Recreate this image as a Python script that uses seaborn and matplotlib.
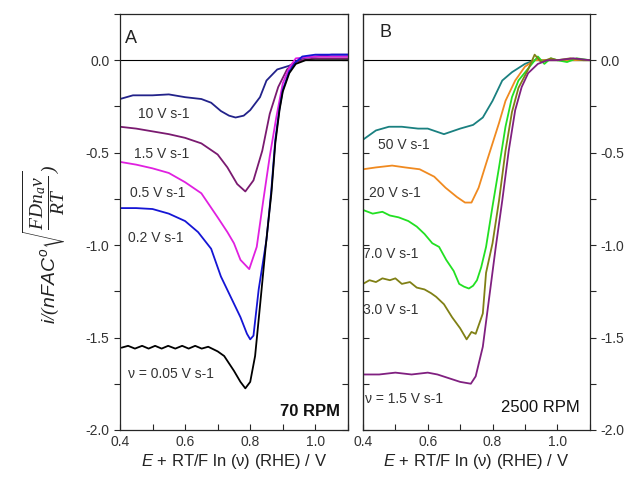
import numpy as np
import pandas as pd
import matplotlib
matplotlib.use('Agg')
import matplotlib.pyplot as plt
from matplotlib.ticker import MultipleLocator
import seaborn as sns

# panel A (70 RPM)
a_labels = ['10 V s-1', '1.5 V s-1', '0.5 V s-1', '0.2 V s-1', 'ν = 0.05 V s-1']
a_colors = ['#22228a', '#7a1a70', '#e020e0', '#1515d5', '#000000']
a_x = [
    [0.40, 0.44, 0.50, 0.55, 0.60, 0.65, 0.68, 0.71, 0.735, 0.755, 0.78, 0.80, 0.83, 0.85, 0.883, 0.92, 0.94, 0.96, 1.00, 1.05, 1.10],
    [0.40, 0.45, 0.50, 0.55, 0.60, 0.65, 0.70, 0.73, 0.76, 0.785, 0.81, 0.837, 0.86, 0.886, 0.913, 0.94, 0.96, 1.00, 1.05, 1.10],
    [0.40, 0.45, 0.50, 0.55, 0.60, 0.65, 0.70, 0.73, 0.75, 0.77, 0.797, 0.82, 0.84, 0.86, 0.88, 0.90, 0.92, 0.94, 0.97, 1.00, 1.05, 1.10],
    [0.40, 0.45, 0.50, 0.55, 0.60, 0.64, 0.68, 0.71, 0.74, 0.77, 0.79, 0.80, 0.81, 0.826, 0.85, 0.865, 0.877, 0.89, 0.90, 0.92, 0.94, 0.96, 1.00, 1.05, 1.10],
    [0.405, 0.425, 0.446, 0.468, 0.488, 0.508, 0.528, 0.548, 0.570, 0.591, 0.611, 0.631, 0.651, 0.671, 0.70, 0.72, 0.75, 0.77, 0.785, 0.80, 0.815, 0.83, 0.848, 0.865, 0.877, 0.89, 0.90, 0.92, 0.94, 0.97, 1.05, 1.10],
]
a_y = [
    [-0.21, -0.19, -0.19, -0.185, -0.20, -0.21, -0.23, -0.275, -0.30, -0.31, -0.30, -0.27, -0.20, -0.11, -0.05, -0.03, -0.01, 0.01, 0.02, 0.03, 0.03],
    [-0.36, -0.37, -0.385, -0.40, -0.42, -0.45, -0.51, -0.58, -0.67, -0.71, -0.65, -0.49, -0.29, -0.145, -0.05, -0.01, 0.0, 0.01, 0.01, 0.01],
    [-0.55, -0.565, -0.585, -0.61, -0.66, -0.72, -0.85, -0.93, -0.99, -1.08, -1.13, -1.01, -0.76, -0.52, -0.31, -0.125, -0.04, 0.01, 0.015, 0.02, 0.02, 0.02],
    [-0.80, -0.80, -0.805, -0.83, -0.87, -0.93, -1.02, -1.17, -1.28, -1.39, -1.48, -1.51, -1.49, -1.24, -0.97, -0.70, -0.43, -0.26, -0.16, -0.06, -0.01, 0.02, 0.03, 0.03, 0.03],
    [-1.555, -1.545, -1.56, -1.545, -1.56, -1.545, -1.56, -1.545, -1.56, -1.545, -1.56, -1.545, -1.56, -1.55, -1.575, -1.60, -1.68, -1.74, -1.775, -1.74, -1.60, -1.33, -1.00, -0.72, -0.45, -0.27, -0.17, -0.07, -0.02, 0.0, 0.0, 0.0],
]
a_text_y = [-0.29, -0.51, -0.72, -0.96, -1.70]
a_text_x = [0.455, 0.443, 0.43, 0.425, 0.425]

# panel B (2500 RPM)
b_labels = ['50 V s-1', '20 V s-1', '7.0 V s-1', '3.0 V s-1', 'ν = 1.5 V s-1']
b_colors = ['#1a8080', '#f08a20', '#22e022', '#808015', '#802080']
b_x = [
    [0.40, 0.44, 0.48, 0.52, 0.57, 0.60, 0.65, 0.70, 0.74, 0.77, 0.80, 0.83, 0.86, 0.90, 0.93, 0.96, 1.00, 1.05, 1.10],
    [0.40, 0.44, 0.49, 0.53, 0.575, 0.62, 0.655, 0.69, 0.715, 0.735, 0.757, 0.78, 0.80, 0.82, 0.84, 0.87, 0.90, 0.93, 0.96, 1.00, 1.05, 1.10],
    [0.40, 0.43, 0.46, 0.483, 0.51, 0.54, 0.566, 0.59, 0.614, 0.635, 0.657, 0.68, 0.697, 0.712, 0.727, 0.74, 0.752, 0.765, 0.78, 0.80, 0.82, 0.84, 0.86, 0.88, 0.91, 0.94, 0.96, 0.98, 1.00, 1.03, 1.06, 1.10],
    [0.40, 0.42, 0.44, 0.46, 0.483, 0.50, 0.52, 0.545, 0.566, 0.59, 0.61, 0.626, 0.65, 0.675, 0.70, 0.72, 0.735, 0.748, 0.77, 0.78, 0.80, 0.82, 0.84, 0.86, 0.88, 0.91, 0.93, 0.95, 0.98, 1.00, 1.04, 1.08, 1.10],
    [0.40, 0.45, 0.50, 0.55, 0.60, 0.63, 0.665, 0.70, 0.733, 0.748, 0.77, 0.79, 0.81, 0.83, 0.85, 0.87, 0.89, 0.91, 0.94, 0.97, 1.00, 1.05, 1.10],
]
b_y = [
    [-0.43, -0.38, -0.36, -0.36, -0.37, -0.37, -0.40, -0.37, -0.35, -0.31, -0.22, -0.11, -0.065, -0.02, 0.0, 0.0, 0.0, 0.0, 0.0],
    [-0.59, -0.58, -0.57, -0.58, -0.59, -0.63, -0.69, -0.74, -0.77, -0.77, -0.69, -0.56, -0.45, -0.34, -0.22, -0.11, -0.035, 0.0, 0.0, 0.0, 0.0, 0.0],
    [-0.81, -0.83, -0.82, -0.84, -0.85, -0.87, -0.90, -0.94, -0.99, -1.01, -1.08, -1.14, -1.21, -1.225, -1.235, -1.22, -1.19, -1.12, -1.01, -0.79, -0.58, -0.36, -0.20, -0.11, -0.045, 0.02, -0.02, 0.01, 0.0, -0.01, 0.01, 0.0],
    [-1.21, -1.19, -1.20, -1.18, -1.19, -1.18, -1.21, -1.20, -1.23, -1.24, -1.26, -1.28, -1.32, -1.39, -1.45, -1.51, -1.47, -1.48, -1.37, -1.15, -0.99, -0.76, -0.49, -0.28, -0.15, -0.05, 0.03, -0.01, 0.01, 0.0, 0.01, 0.0, 0.0],
    [-1.70, -1.70, -1.69, -1.70, -1.69, -1.70, -1.72, -1.74, -1.75, -1.71, -1.55, -1.28, -1.01, -0.76, -0.49, -0.27, -0.145, -0.07, -0.02, 0.0, 0.0, 0.01, 0.0],
]
b_text_y = [-0.46, -0.72, -1.05, -1.35, -1.83]
b_text_x = [0.445, 0.418, 0.40, 0.40, 0.405]


def to_frame(labels, xs, ys):
    rows = []
    for lab, x, y in zip(labels, xs, ys):
        for xi, yi in zip(x, y):
            rows.append({'curve': lab, 'E': xi, 'j': yi})
    return pd.DataFrame(rows)


sns.set_style('ticks')
plt.rcParams['font.family'] = ['Liberation Sans', 'DejaVu Sans']
plt.rcParams['mathtext.fontset'] = 'custom'
plt.rcParams['mathtext.it'] = 'Liberation Sans:italic'
plt.rcParams['mathtext.rm'] = 'Liberation Serif:italic'
plt.rcParams['text.color'] = '#222222'

fig = plt.figure(figsize=(6.28, 4.82), dpi=100)
axA = fig.add_axes([0.191, 0.108, 0.363, 0.863])
axB = fig.add_axes([0.578, 0.108, 0.361, 0.863])

for ax, labels, colors, xs, ys, tx, ty in [
        (axA, a_labels, a_colors, a_x, a_y, a_text_x, a_text_y),
        (axB, b_labels, b_colors, b_x, b_y, b_text_x, b_text_y)]:
    df = to_frame(labels, xs, ys)
    ax.axhline(0, color='black', lw=0.8, zorder=1)
    sns.lineplot(data=df, x='E', y='j', hue='curve', palette=dict(zip(labels, colors)),
                 sort=False, estimator=None, lw=1.3, legend=False, ax=ax)
    for lab, x, y in zip(labels, tx, ty):
        ax.text(x, y, lab, fontsize=10, va='center', ha='left', color='#333333')
    ax.set_xlim(0.4, 1.1)
    ax.set_ylim(-2.0, 0.25)
    ax.xaxis.set_minor_locator(MultipleLocator(0.1))
    ax.yaxis.set_major_locator(MultipleLocator(0.5))
    ax.yaxis.set_minor_locator(MultipleLocator(0.25))
    ax.set_xticks([0.4, 0.6, 0.8, 1.0])
    ax.set_xticklabels(['0.4', '0.6', '0.8', '1.0'])
    ax.tick_params(axis='x', which='both', direction='in', length=4, width=0.8, labelsize=10,
                   labelcolor='#333333', top=False)
    ax.set_xlabel(r'$\it{E}$ + RT/F ln (ν) (RHE) / V', fontsize=12, color='#222222', labelpad=2)
    for s in ax.spines.values():
        s.set_linewidth(0.9)
        s.set_visible(True)

# panel A: labels left, outward; inward ticks on right
axA.tick_params(axis='y', which='both', direction='out', length=4, width=0.8, labelsize=10,
                labelcolor='#333333', left=True, right=False)
axA.set_yticks([-2.0, -1.5, -1.0, -0.5, 0.0])
axA.set_yticklabels(['-2.0', '-1.5', '-1.0', '-0.5', '0.0'])
secA = axA.secondary_yaxis('right')
secA.yaxis.set_major_locator(MultipleLocator(0.25))
secA.tick_params(direction='in', length=4, width=0.8, labelright=False)
axA.set_ylabel(r'$\mathit{i/(nFAC^o}\sqrt{\dfrac{\mathrm{FDn_a\nu}}{\mathrm{RT}}}\mathit{)}$',
               fontsize=14, color='#222222')
axA.yaxis.set_label_coords(-0.23, 0.445)
axA.text(0.415, 0.12, 'A', fontsize=13, va='center', ha='left', color='#222222')
axA.text(1.075, -1.90, '70 RPM', fontsize=12, fontweight='bold', va='center', ha='right', color='#111111')

# panel B: labels right, outward; inward ticks on left
axB.yaxis.tick_right()
axB.tick_params(axis='y', which='both', direction='out', length=4, width=0.8, labelsize=10,
                labelcolor='#333333', right=True, left=False)
axB.set_yticks([-2.0, -1.5, -1.0, -0.5, 0.0])
axB.set_yticklabels(['-2.0', '-1.5', '-1.0', '-0.5', '0.0'])
axB.set_ylabel('')
secB = axB.secondary_yaxis('left')
secB.yaxis.set_major_locator(MultipleLocator(0.25))
secB.tick_params(direction='in', length=4, width=0.8, labelleft=False)
axB.text(0.452, 0.15, 'B', fontsize=13, va='center', ha='left', color='#222222')
axB.text(1.068, -1.88, '2500 RPM', fontsize=12, va='center', ha='right', color='#111111')

fig.savefig('out.png', dpi=100)
